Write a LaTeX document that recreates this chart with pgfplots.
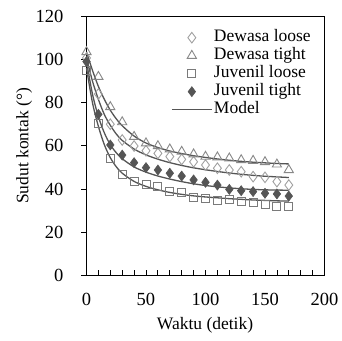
\documentclass[border=0pt]{standalone}
\usepackage{pgfplots}
\pgfplotsset{compat=1.18}
\usepackage{fontspec}
\setmainfont{Liberation Serif}
\newcommand\ff{\fontsize{17.5}{20}\selectfont}
\newcommand\ft{\fontsize{18.5}{20}\selectfont}
\definecolor{cDL}{HTML}{A0A0A0}
\definecolor{cDT}{HTML}{888888}
\definecolor{cJL}{HTML}{7A7A7A}
\definecolor{cJT}{HTML}{555555}
\definecolor{cM}{HTML}{555555}
\pgfplotsset{
  markleg/.style={legend image code/.code={\draw[##1] plot coordinates {(20pt,0pt)};}},
  lineleg/.style={legend image code/.code={\draw[##1] (0pt,0pt) -- (40pt,0pt);}},
}
\begin{document}
\begin{tikzpicture}
\path[use as bounding box] (-86.5pt,-64.7pt) rectangle (255.5pt,275.3pt);
\begin{axis}[
  at={(0pt,0pt)}, anchor=south west,
  scale only axis, width=238pt, height=259pt,
  xmin=0, xmax=200, ymin=0, ymax=120,
  xtick={0,50,100,150,200}, minor x tick num=4,
  ytick={0,20,40,60,80,100,120},
  xtick pos=bottom, ytick pos=left,
  x tick style={draw=black, line width=0.8pt},
  y tick style={draw=black, line width=0.8pt},
  xtick align=inside, ytick align=outside,
  major tick length=5pt, minor tick length=5pt,
  axis line style={line width=1.1pt},
  /pgf/number format/assume math mode=true,
  tick label style={font=\ft},
  xticklabel style={anchor=center, yshift=-24pt},
  yticklabel shift=18pt,
  every y tick label/.append style={anchor=east, inner sep=0pt},
  every axis y label/.style={at={(axis description cs:-0.262,0.5)}, rotate=90, anchor=center, font=\ff},
  every axis x label/.style={at={(axis description cs:0.498,-0.192)}, anchor=center, font=\ff},
  xlabel={Waktu (detik)},
  ylabel={Sudut kontak (°)},
  legend cell align=left,
  legend style={draw=none, fill=none, font=\ff, at={(axis description cs:0.355,0.953)}, anchor=north west,
    inner sep=0pt, row sep=0pt, column sep=1pt,
    nodes={inner sep=0.5pt, text height=12.5pt, text depth=4.5pt}},
  clip=false,
]
% Dewasa loose
\addplot[only marks, mark=diamond, mark size=5.3pt, mark options={draw=cDL, fill=white, line width=0.9pt}, markleg]
coordinates {(0,100.7)(10,84)(20,70)(30,62.7)(40,59.9)(50,57.7)(60,56.5)(70,55)(80,53.7)(90,52.6)(100,51.1)(110,49.6)(120,48.8)(130,48)(140,45.7)(150,45.4)(160,43.4)(170,41.8)};
\addlegendentry{Dewasa loose}
% Dewasa tight
\addplot[only marks, mark=triangle, mark size=5.3pt, mark options={draw=cDT, fill=white, line width=0.9pt}, markleg]
coordinates {(0,103.5)(10,92)(20,78)(30,71)(40,64.2)(50,61.2)(60,59.9)(70,58.4)(80,57.3)(90,56.1)(100,55)(110,54.7)(120,54.2)(130,53.4)(140,53.1)(150,52.5)(160,51.4)(170,48.8)};
\addlegendentry{Dewasa tight}
% Juvenil loose
\addplot[only marks, mark=square, mark size=4pt, mark options={draw=cJL, fill=white, line width=0.9pt}, markleg]
coordinates {(0,95)(10,70.4)(20,54.2)(30,46.9)(40,43.4)(50,42.2)(60,41.1)(70,38.8)(80,38.3)(90,36)(100,35.5)(110,34.9)(120,35.2)(130,34.1)(140,33.6)(150,32.6)(160,32.1)(170,31.8)};
\addlegendentry{Juvenil loose}
% Juvenil tight
\addplot[only marks, mark=diamond*, mark size=5pt, mark options={draw=cJT, fill=cJT, line width=0.6pt}, markleg]
coordinates {(0,99)(10,74.6)(20,60.4)(30,55.7)(40,52.2)(50,49.9)(60,48.8)(70,47.3)(80,46)(90,44.2)(100,43.1)(110,41.8)(120,39.8)(130,39.2)(140,38.8)(150,38)(160,37.7)(170,36.7)};
\addlegendentry{Juvenil tight}
% Models
\addplot[no marks, smooth, color=cM, line width=1.3pt, lineleg]
coordinates {(0,103.5)(5,95)(10,87.5)(15,81.5)(20,76.5)(25,72.5)(30,69.3)(40,64.5)(50,61.3)(60,59.2)(70,57.6)(80,56.4)(90,55.4)(100,54.6)(110,53.9)(120,53.3)(130,52.8)(140,52.4)(150,52.1)(160,51.8)(170,51.6)};
\addlegendentry{Model}
\addplot[no marks, smooth, color=cM, line width=1.3pt, forget plot]
coordinates {(0,100.7)(5,90)(10,81.5)(15,74.5)(20,69.5)(25,65.5)(30,62.5)(40,58.5)(50,55.8)(60,53.8)(70,52.2)(80,50.9)(90,49.8)(100,48.9)(110,48.1)(120,47.4)(130,46.8)(140,46.3)(150,45.9)(160,45.6)(170,45.3)};
\addplot[no marks, smooth, color=cM, line width=1.3pt, forget plot]
coordinates {(0,99)(5,84)(10,73.5)(15,66)(20,60.5)(25,56.8)(30,54)(40,50.2)(50,47.8)(60,46)(70,44.6)(80,43.4)(90,42.4)(100,41.6)(110,41)(120,40.5)(130,40.1)(140,39.8)(150,39.6)(160,39.5)(170,39.4)};
\addplot[no marks, smooth, color=cM, line width=1.3pt, forget plot]
coordinates {(0,96)(5,80)(10,69)(15,60.5)(20,54.5)(25,50.3)(30,47.3)(40,43.5)(50,41.2)(60,39.6)(70,38.4)(80,37.5)(90,36.8)(100,36.3)(110,35.9)(120,35.5)(130,35.2)(140,34.9)(150,34.7)(160,34.5)(170,34.4)};
\end{axis}
\end{tikzpicture}
\end{document}
